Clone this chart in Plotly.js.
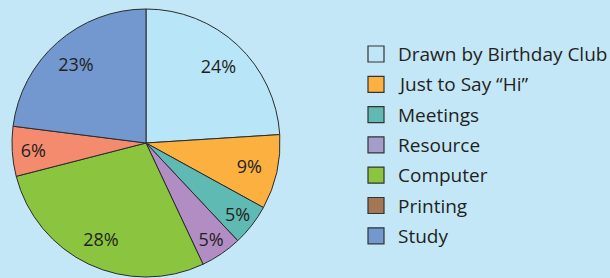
<!DOCTYPE html>
<html><head><meta charset="utf-8">
<script src="https://cdn.plot.ly/plotly-3.0.1.min.js"></script>
<style>html,body{margin:0;padding:0;background:#C4E7F8;}#chart{width:610px;height:278px;}</style>
</head><body><div id="chart"></div>
<script>
const categories = ["Drawn by Birthday Club", "Just to Say \u201cHi\u201d", "Meetings", "Resource", "Computer", "Printing", "Study"];
const values = [24, 9, 5, 5, 28, 6, 23];
const sliceColors = ["#B9E5F9", "#FBB040", "#5FBAB3", "#B18DC3", "#8BC53F", "#F58B6E", "#7298CF"];
const legendColors = ["#BDE6F8", "#FBB040", "#5FBAB3", "#A49DCB", "#8BC53F", "#A47651", "#7298CF"];

const W = 610, H = 278;
const cx = 146, cy = 143, r = 134;
const dom = {x: [(cx - r) / W, (cx + r) / W], y: [1 - (cy + r) / H, 1 - (cy - r) / H]};

// filled pie with outlines
const pie = {
  type: "pie", values: values, labels: categories, sort: false,
  direction: "clockwise", rotation: 0,
  marker: {colors: sliceColors, line: {color: "#2b2b2b", width: 1}},
  textposition: "none", hoverinfo: "none", showlegend: false, domain: dom
};
// transparent ring carrying the percentage labels in the outer part of each slice
const labelsRing = {
  type: "pie", values: values, labels: categories, sort: false,
  direction: "clockwise", rotation: 0, hole: 0.58,
  marker: {colors: categories.map(() => "rgba(0,0,0,0)"), line: {width: 0}},
  texttemplate: "%{value}%", textposition: "inside", insidetextorientation: "horizontal",
  textfont: {family: "Open Sans, sans-serif", size: 18, color: "#231F20"},
  hoverinfo: "none", showlegend: false, domain: dom
};

const shapes = [], annotations = [];
const lx0 = 368, box = 16, y0 = 54, dy = 30.3;
categories.forEach((c, i) => {
  const yc = y0 + i * dy;
  shapes.push({type: "rect", xref: "paper", yref: "paper",
    x0: lx0 / W, x1: (lx0 + box) / W, y0: 1 - (yc + box / 2) / H, y1: 1 - (yc - box / 2) / H,
    fillcolor: legendColors[i], line: {color: "#333333", width: 1.2}});
  annotations.push({xref: "paper", yref: "paper", x: 396 / W, y: 1 - yc / H,
    xanchor: "left", yanchor: "middle", showarrow: false, text: c,
    font: {family: "Open Sans, sans-serif", size: 19, color: "#231F20"}});
});

const layout = {
  width: W, height: H,
  margin: {l: 0, r: 0, t: 0, b: 0},
  paper_bgcolor: "#C4E7F8", plot_bgcolor: "#C4E7F8",
  shapes: shapes, annotations: annotations, showlegend: false
};
Plotly.newPlot("chart", [pie, labelsRing], layout, {displayModeBar: false, staticPlot: true});
</script></body></html>
